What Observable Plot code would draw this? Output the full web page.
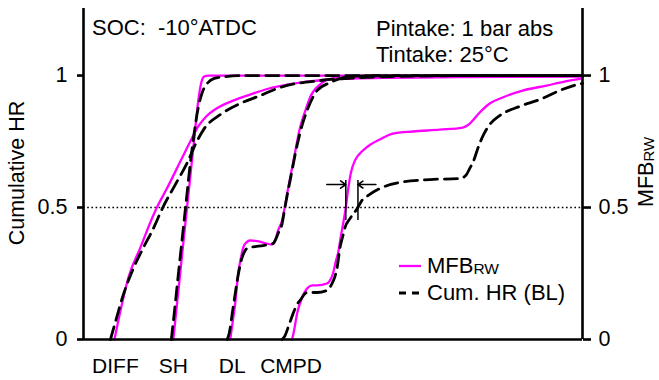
<!DOCTYPE html>
<html>
<head>
<meta charset="utf-8">
<script src="https://cdn.jsdelivr.net/npm/d3@7"></script>
<script src="https://cdn.jsdelivr.net/npm/@observablehq/plot@0.6"></script>
<style>
  html, body { margin: 0; padding: 0; background: #fff; }
  #chart { width: 659px; height: 380px; }
  svg text { font-family: "Liberation Sans", Arial, Helvetica, sans-serif; }
</style>
</head>
<body>
<div id="chart"></div>
<script>
// Combustion modes, placed at their start of heat release on the (unitless) timing axis
const modeNames = ["DIFF", "SH", "DL", "CMPD"];
const modePos = [6.4, 18.0, 29.8, 41.6];

// Y ticks shared by both axes
const yTicks = [0, 0.5, 1];

// Mass fraction burned (MFB_RW) per mode: [timing, fraction]
const diffMfb = [[6.2,0],[7.6,0.125],[9.0,0.235],[11.4,0.348],[13.8,0.462],[14.8,0.504],[16.6,0.568],[19.4,0.674],[21.4,0.75],[23.0,0.807],[24.4,0.841],[27.0,0.879],[30.0,0.905],[33.4,0.928],[36.8,0.949],[43.4,0.973],[49.4,0.985],[63.4,0.992],[79.4,0.996],[100,0.998]];
const shMfb = [[18.0,0],[18.6,0.11],[19.4,0.254],[20.2,0.402],[21.0,0.545],[21.8,0.689],[22.4,0.799],[23.0,0.905],[23.6,0.973],[24.2,0.996],[25.0,1],[100,1]];
const dlMfb = [[29.4,0],[30.0,0.08],[30.4,0.136],[31.0,0.25],[31.6,0.314],[32.0,0.348],[32.6,0.367],[33.4,0.375],[34.8,0.373],[36.0,0.367],[37.8,0.36],[38.4,0.375],[39.0,0.413],[39.8,0.451],[40.4,0.508],[41.0,0.572],[42.0,0.67],[43.4,0.803],[44.6,0.875],[45.4,0.917],[47.4,0.966],[50.0,0.989],[53.4,0.992],[100,0.996]];
const cmpdMfb = [[41.8,0],[42.2,0.034],[42.8,0.098],[43.8,0.159],[44.8,0.193],[45.8,0.205],[46.8,0.205],[48.8,0.212],[49.6,0.231],[50.0,0.25],[50.6,0.299],[51.0,0.326],[51.6,0.394],[52.0,0.436],[52.6,0.504],[53.0,0.564],[53.6,0.633],[54.4,0.678],[56.0,0.716],[57.8,0.742],[59.4,0.758],[62.0,0.78],[66.0,0.788],[71.4,0.795],[76.0,0.803],[77.4,0.818],[79.4,0.86],[81.4,0.894],[84.0,0.917],[88.0,0.943],[92.8,0.962],[96.4,0.977],[100,0.989]];

// Cumulative heat release, baseline (Cum. HR (BL)) per mode: [timing, fraction]
const diffHr = [[5.4,0],[6.6,0.08],[7.8,0.159],[9.8,0.261],[12.0,0.348],[13.8,0.413],[16.0,0.504],[18.4,0.587],[20.8,0.67],[22.6,0.746],[24.2,0.799],[27.4,0.852],[31.4,0.894],[35.4,0.924],[39.4,0.955],[47.4,0.981],[55.4,0.992],[67.4,0.998],[83.4,1],[100,1]];
const shHr = [[17.6,0],[18.2,0.102],[19.0,0.246],[19.8,0.386],[20.6,0.527],[21.4,0.667],[22.2,0.784],[23.0,0.879],[23.8,0.936],[24.8,0.97],[26.2,0.989],[28.4,0.996],[32.4,1],[100,1]];
const dlHr = [[28.8,0],[29.2,0.023],[29.8,0.098],[30.2,0.148],[30.8,0.223],[31.8,0.311],[32.4,0.337],[33.0,0.348],[34.4,0.352],[36.0,0.356],[38.0,0.364],[38.6,0.383],[39.0,0.402],[39.8,0.439],[40.2,0.481],[40.8,0.545],[41.4,0.602],[42.8,0.735],[43.8,0.811],[44.8,0.867],[46.8,0.943],[49.4,0.973],[52.0,0.992],[54.4,0.998],[63.4,1],[100,1]];
const cmpdHr = [[39.8,0],[40.4,0.015],[41.0,0.045],[42.0,0.098],[42.8,0.133],[43.4,0.148],[44.8,0.178],[46.8,0.178],[48.8,0.186],[49.8,0.212],[50.4,0.239],[50.8,0.269],[51.4,0.348],[52.0,0.394],[52.4,0.424],[53.4,0.458],[55.0,0.5],[55.8,0.527],[57.0,0.545],[59.4,0.572],[63.4,0.595],[69.4,0.606],[75.4,0.61],[76.6,0.621],[77.4,0.648],[78.2,0.678],[79.0,0.723],[80.2,0.777],[81.4,0.814],[83.4,0.848],[87.4,0.883],[91.4,0.909],[95.4,0.943],[99.0,0.966],[100,0.97]];

const MAGENTA = "#ff00ff";
const FONT = '"Liberation Sans", Arial, Helvetica, sans-serif';

// Timing at which a curve first reaches a given fraction (linear between points)
function crossing(pts, level) {
  for (let i = 1; i < pts.length; i++) {
    const [x0, y0] = pts[i - 1], [x1, y1] = pts[i];
    if (y0 <= level && y1 >= level) return x0 + (level - y0) / (y1 - y0) * (x1 - x0);
  }
  return NaN;
}

const toRows = (pts, series) => pts.map(([x, y]) => ({x, y, series}));
const mfbRows = [
  ...toRows(diffMfb, "DIFF"), ...toRows(shMfb, "SH"),
  ...toRows(dlMfb, "DL"), ...toRows(cmpdMfb, "CMPD")
];
const hrRows = [
  ...toRows(diffHr, "DIFF"), ...toRows(shHr, "SH"),
  ...toRows(dlHr, "DL"), ...toRows(cmpdHr, "CMPD")
];

// 50% burn points of the CMPD pair, marked with the bracketing arrows
const x50Mfb = crossing(cmpdMfb, 0.5);
const x50Hr = crossing(cmpdHr, 0.5);
const markerTop = 0.602, markerBottom = 0.451, arrowY = 0.587;
const markers = [{x: x50Mfb}, {x: x50Hr}];
const arrows = [
  {x1: x50Mfb - 3.8, x2: x50Mfb},
  {x1: x50Hr + 3.6, x2: x50Hr}
];

const modes = modeNames.map((name, i) => ({name, x: modePos[i]}));
const tickText = d => (d === 0.5 ? "0.5" : String(d));

const plot = Plot.plot({
  width: 659,
  height: 380,
  marginLeft: 83,
  marginRight: 77,
  marginTop: 8,
  marginBottom: 41,
  style: {fontFamily: FONT, fontSize: "21.5px", background: "#fff", color: "#000"},
  x: {domain: [0, 100], axis: null},
  y: {domain: [0, 1.254]},
  marks: [
    Plot.ruleY([0.5], {stroke: "#000", strokeWidth: 1.6, strokeDasharray: "1.6,2.6"}),
    Plot.line(mfbRows, {x: "x", y: "y", z: "series", stroke: MAGENTA, strokeWidth: 2.3, curve: "monotone-x"}),
    Plot.line(hrRows, {x: "x", y: "y", z: "series", stroke: "#000", strokeWidth: 2.8, strokeDasharray: "13,7", curve: "monotone-x"}),
    Plot.ruleX(markers, {x: "x", y1: markerBottom, y2: markerTop, stroke: "#000", strokeWidth: 1.5}),
    Plot.arrow(arrows, {x1: "x1", x2: "x2", y1: arrowY, y2: arrowY, stroke: "#000", strokeWidth: 1.6, headLength: 8, headAngle: 70}),
    Plot.ruleX([0, 100], {stroke: "#000", strokeWidth: 2.6}),
    Plot.ruleY([0], {stroke: "#000", strokeWidth: 2.6}),
    Plot.axisY({anchor: "left", ticks: yTicks, tickFormat: tickText, tickSize: 6, tickPadding: 10, strokeWidth: 2.6, label: null, fontSize: 21.5}),
    Plot.axisY({anchor: "right", ticks: yTicks, tickFormat: tickText, tickSize: 8, tickPadding: 8, strokeWidth: 2.6, label: null, fontSize: 21.5}),
    Plot.text(modes, {x: "x", y: () => 0, text: "name", dy: 27, fontSize: 21, fill: "#000"})
  ]
});

const svg = d3.select(plot);
svg.style("overflow", "visible");

function addText(x, y, str, opts = {}) {
  const t = svg.append("text")
    .attr("x", x).attr("y", y)
    .attr("font-family", FONT)
    .attr("font-size", opts.size || 22)
    .attr("fill", "#000")
    .attr("text-anchor", opts.anchor || "start")
    .text(str);
  if (opts.rotate) t.attr("transform", `rotate(-90 ${x} ${y})`);
  return t;
}

// Operating conditions
addText(92, 35, "SOC:  -10°ATDC").attr("xml:space", "preserve").style("white-space", "pre");
addText(376, 36, "Pintake: 1 bar abs");
addText(376, 62, "Tintake: 25°C");

// Axis titles
addText(24, 173, "Cumulative HR", {anchor: "middle", rotate: true, size: 21.5});
const rightTitle = addText(653, 207, "MFB", {rotate: true, size: 21.5});
rightTitle.append("tspan").attr("font-size", 15).attr("dy", 1).text("RW");

// Legend
svg.append("line").attr("x1", 399).attr("x2", 421).attr("y1", 266).attr("y2", 266)
  .attr("stroke", MAGENTA).attr("stroke-width", 2.3);
svg.append("line").attr("x1", 399).attr("x2", 421).attr("y1", 293).attr("y2", 293)
  .attr("stroke", "#000").attr("stroke-width", 2.8).attr("stroke-dasharray", "7,6");
const leg1 = addText(427, 273, "MFB");
leg1.append("tspan").attr("font-size", 15.5).attr("dy", 1).text("RW");
addText(427, 300, "Cum. HR (BL)");

document.getElementById("chart").appendChild(plot);
</script>
</body>
</html>
